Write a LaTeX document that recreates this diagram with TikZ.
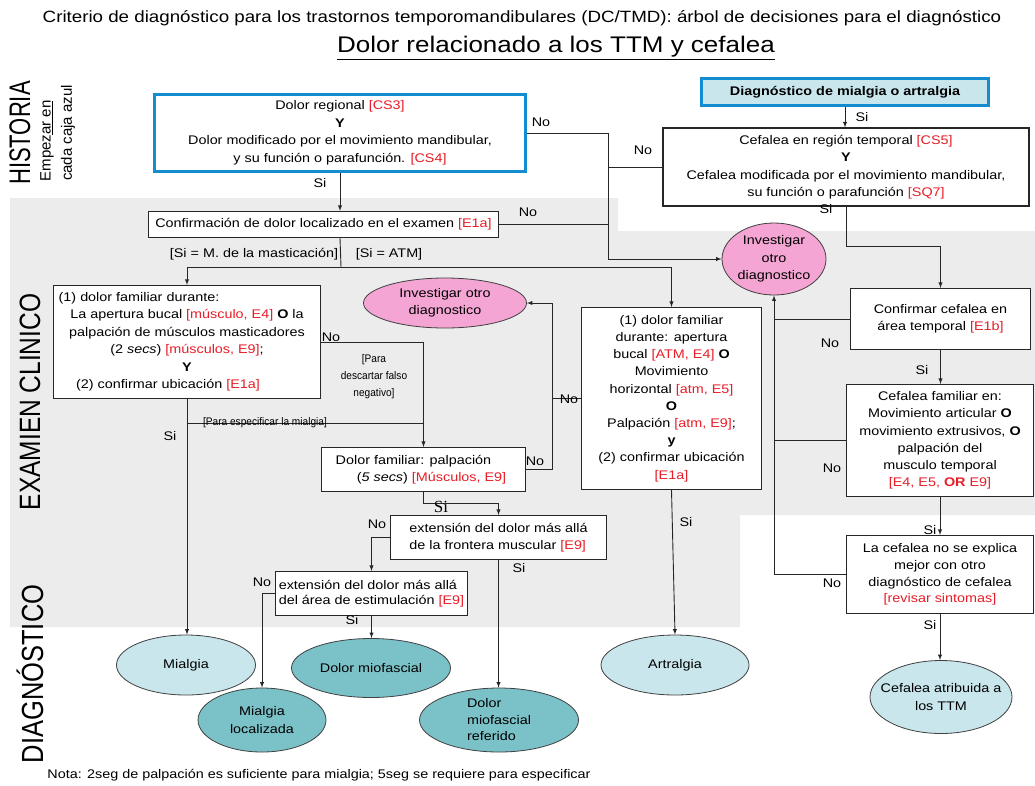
\documentclass[tikz,border=0pt]{standalone}
\usepackage{fontspec}
\setmainfont{Liberation Sans}[FakeStretch=1.15]
\newfontfamily\sidefont{Liberation Sans}
\newfontfamily\serifsi{Liberation Serif}
\usetikzlibrary{shapes.geometric,calc,arrows}

\definecolor{tred}{RGB}{232,30,40}
\definecolor{bluefr}{RGB}{20,140,210}
\definecolor{bggray}{RGB}{236,236,236}
\definecolor{pinkov}{RGB}{245,165,212}
\definecolor{lcyan}{RGB}{200,230,236}
\definecolor{tealov}{RGB}{122,194,200}

\newcommand{\rt}[1]{\textcolor{tred}{#1}}

\begin{document}
\begin{tikzpicture}[x=1pt,y=-1pt,
	txt/.style={font=\fontsize{12.5}{17.5}\selectfont},
	box/.style={draw=black!85,line width=1.1pt,fill=white,align=center,inner sep=1pt,txt},
	bluebox/.style={box,draw=bluefr,line width=3pt},
	oval/.style={ellipse,draw=black!75,line width=0.8pt,inner sep=0pt,align=center,txt},
	con/.style={line width=0.9pt,black!85},
	arr/.style={con,-latex},
	lab/.style={txt,inner sep=1pt},
	side/.style={rotate=90,font=\sidefont\fontsize{22}{24}\selectfont,inner sep=0pt}]
	
	\useasboundingbox (0,0) rectangle (1035,785);
	
	% zonas
	\fill[bggray] (10,198) -- (618,198) -- (618,231) -- (1035,231) -- (1035,515)
		-- (740,515) -- (740,627) -- (10,627) -- cycle;
	
	% titulos
	\node[font=\fontsize{16.3}{18}\selectfont] (titulo) at (522,18) {Criterio de diagnóstico para los trastornos temporomandibulares (DC/TMD): árbol de decisiones para el diagnóstico};
	\node[font=\fontsize{22.6}{26}\selectfont] (subtit) at (556,48) {\underline{Dolor relacionado a los TTM y cefalea}};
	
	\node[side] (lhist) at (20,133) {\scalebox{1}[1.35]{HISTORIA}};
	\node[side,font=\sidefont\fontsize{15}{16}\selectfont] (lemp) at (47,141) {Empez\underline{ar en}};
	\node[side,font=\sidefont\fontsize{15}{16}\selectfont] (lcaja) at (68,133) {cada caja azul};
	\node[side,font=\sidefont\fontsize{24.5}{26}\selectfont] (lexam) at (30,402) {\scalebox{1}[1.2]{EXAMIEN CLINICO}};
	\node[side,font=\sidefont\fontsize{25.5}{26}\selectfont] (ldiag) at (30,674) {\scalebox{1}[1.2]{DIAGNÓSTICO}};
	
	% historia
	\node[bluebox,minimum width=371pt,minimum height=77pt] (dolreg) at (340,133) {Dolor regional \rt{[CS3]}\\ \textbf{Y}\\ Dolor modificado por el movimiento mandibular,\\ y su función o parafunción. \rt{[CS4]}};
	\node[bluebox,fill=lcyan,minimum width=287pt,minimum height=27pt,font=\bfseries\fontsize{12.5}{15}\selectfont] (diagmia) at (845,92) {Diagnóstico de mialgia o artralgia};
	\node[box,minimum width=366pt,minimum height=78pt] (cefreg) at (846,167) {Cefalea en región temporal \rt{[CS5]}\\ \textbf{Y}\\ Cefalea modificada por el movimiento mandibular,\\ su función o parafunción \rt{[SQ7]}};
	
	% examen
	\node[box,minimum width=350pt,minimum height=26pt] (confirm) at (323.5,224.5) {Confirmación de dolor localizado en el examen \rt{[E1a]}};
	\node[box,minimum width=267pt,minimum height=113pt] (musc) at (187,342) {(1) dolor familiar durante:\hspace*{96pt}\\ La apertura bucal \rt{[músculo, E4]} \textbf{O} la\\ palpación de músculos masticadores\\ (2 \textit{secs}) \rt{[músculos, E9]};\\ \textbf{Y}\\ (2) confirmar ubicación \rt{[E1a]}\hspace*{38pt}};
	\node[box,minimum width=180pt,minimum height=182pt,font=\fontsize{12.5}{17.2}\selectfont] (atm) at (671.5,398.5) {(1) dolor familiar\\ durante: apertura\\ bucal \rt{[ATM, E4]} \textbf{O}\\ Movimiento\\ horizontal \rt{[atm, E5]}\\ \textbf{O}\\ Palpación \rt{[atm, E9]};\\ \textbf{y}\\ (2) confirmar ubicación\\ \rt{[E1a]}};
	\node[box,minimum width=204pt,minimum height=44pt] (dpalp) at (423.5,469.5) {Dolor familiar: palpación\hspace*{20pt}\\ \hspace*{16pt}(\textit{5 secs}) \rt{[Músculos, E9]}};
	\node[box,minimum width=216pt,minimum height=44pt,align=left] (ext1) at (498.5,537.5) {extensión del dolor más allá\\ de la frontera muscular \rt{[E9]}};
	\node[box,minimum width=192pt,minimum height=44pt,align=left,font=\fontsize{12.5}{14.5}\selectfont] (ext2) at (371.5,593.5) {extensión del dolor más allá\\ del área de estimulación \rt{[E9]}};
	
	\node[box,minimum width=180pt,minimum height=61pt] (confcef) at (940.5,319) {Confirmar cefalea en\\ área temporal \rt{[E1b]}};
	\node[box,minimum width=187pt,minimum height=112pt,font=\fontsize{12.5}{17.3}\selectfont] (cefam) at (940,440.5) {Cefalea familiar en:\\ Movimiento articular \textbf{O}\\ movimiento extrusivos, \textbf{O}\\ palpación del\\ musculo temporal\\ \rt{[E4, E5, \textbf{OR} E9]}};
	\node[box,minimum width=187pt,minimum height=78pt,font=\fontsize{12.5}{16.7}\selectfont] (cefexp) at (940,574.5) {La cefalea no se explica\\ mejor con otro\\ diagnóstico de cefalea\\ \rt{[revisar sintomas]}};
	
	\node[oval,fill=pinkov,minimum width=163pt,minimum height=50pt] (invest1) at (445,303) {Investigar otro\\ diagnostico};
	\node[oval,fill=pinkov,minimum width=104pt,minimum height=72pt] (invest2) at (774,259) {Investigar\\ otro\\ diagnostico};
	
	% diagnostico
	\node[oval,fill=lcyan,minimum width=139pt,minimum height=60pt] (mialgia) at (186,665) {Mialgia};
	\node[oval,fill=tealov,minimum width=128pt,minimum height=64pt] (mloc) at (262,720) {Mialgia\\ localizada};
	\node[oval,fill=tealov,minimum width=159pt,minimum height=59pt] (dmio) at (371,668) {Dolor miofascial};
	\node[oval,fill=tealov,minimum width=159pt,minimum height=64pt,align=left,font=\fontsize{12.5}{16.5}\selectfont] (dmref) at (499,720) {Dolor\\ miofascial\\ referido};
	\node[oval,fill=lcyan,minimum width=148pt,minimum height=60pt] (artr) at (675,665) {Artralgia};
	\node[oval,fill=lcyan,minimum width=142pt,minimum height=73pt,inner xsep=-11pt] (cefttm) at (941,697) {Cefalea atribuida a\\ los TTM};
	
	\node[font=\fontsize{12.5}{14}\selectfont] (nota) at (319,775) {Nota: 2seg de palpación es suficiente para mialgia; 5seg se requiere para especificar};
	
	% conectores historia
	\coordinate (nocol) at (608,133);
	\draw[arr] (diagmia.south) -- (diagmia.south |- cefreg.north);
	\draw[arr] (cefreg.south) -- ++(0,40) -| (confcef.north);
	\draw[arr] (dolreg.east) -- (nocol) |- (invest2.west);
	\draw[con] (cefreg.west) -- (cefreg.west -| nocol);
	\draw[con] (confirm.east) -- (confirm.east -| nocol);
	\draw[arr] (dolreg.south) -- (dolreg.south |- confirm.north);
	
	% conectores examen
	\coordinate (split) at (341,267);
	\coordinate (espec) at (187,423);
	\coordinate (nocol2) at (552,303);
	\draw[con] (dolreg.south |- confirm.south) -- (split);
	\draw[arr] (split) -| (musc.north);
	\draw[arr] (split) -| (atm.north);
	\draw[arr] (musc.south) -- (musc.south |- mialgia.north);
	\draw[arr] (musc.east) -- (musc.east -| dpalp.north) -- (dpalp.north);
	\draw[con] (espec) -- (espec -| dpalp.north);
	\draw[arr] (dpalp.east) -| (nocol2) -- (invest1.east);
	\draw[con] (atm.west) -- (atm.west -| nocol2);
	\draw[arr] (dpalp.south) -- ++(0,11) -| (ext1.north);
	\draw[arr] (ext1.west) -| (ext2.north);
	\draw[arr] (ext1.south) -- (ext1.south |- dmref.north);
	\draw[arr] (ext2.west) -| (mloc.north);
	\draw[arr] (ext2.south) -- (ext2.south |- dmio.north);
	\draw[arr] (atm.south) -- (artr.north);
	
	% conectores cefalea
	\draw[arr] (confcef.south) -- (confcef.south |- cefam.north);
	\draw[arr] (cefam.south) -- (cefam.south |- cefexp.north);
	\draw[arr] (cefexp.south) -- (cefexp.south |- cefttm.north);
	\draw[arr] (cefexp.west) -- (cefexp.west -| invest2.south) -- (invest2.south);
	\draw[con] (cefam.west) -- (cefam.west -| invest2.south);
	\draw[con] (confcef.west) -- (confcef.west -| invest2.south);
	
	% etiquetas
	\foreach [count=\i] \x/\y/\t in {862/117/Si, 826/209/Si, 541/122/No, 643/150/No, 528/212/No,
		320/183/Si, 170/436/Si, 331/337/No, 535/461/No, 569/399/No, 377/524/No, 519/568/Si,
		262/582/No, 352/620/Si, 686/522/Si, 922/370/Si, 930/530/Si, 930/625/Si,
		830/343/No, 832/468/No, 832/583/No}
		\node[lab] (lab\i) at (\x,\y) {\t};
	\node[lab] (lsima) at (254,254) {[Si = M. de la masticación]};
	\node[lab] (lsiatm) at (389,254) {[Si = ATM]};
	\node[lab,font=\serifsi\fontsize{17}{18}\selectfont] (lsi5) at (441,507) {Si};
	\node[lab,font=\fontsize{11}{13}\selectfont] (lesp) at (265,423) {\scalebox{0.8}[1]{[Para especificar la mialgia]}};
	\node[lab,align=center,font=\fontsize{11}{17}\selectfont] (ldesc) at (374,377) {\scalebox{0.8}[1]{[Para}\\ \scalebox{0.8}[1]{descartar falso}\\ \scalebox{0.8}[1]{negativo]}};
\end{tikzpicture}
\end{document}
